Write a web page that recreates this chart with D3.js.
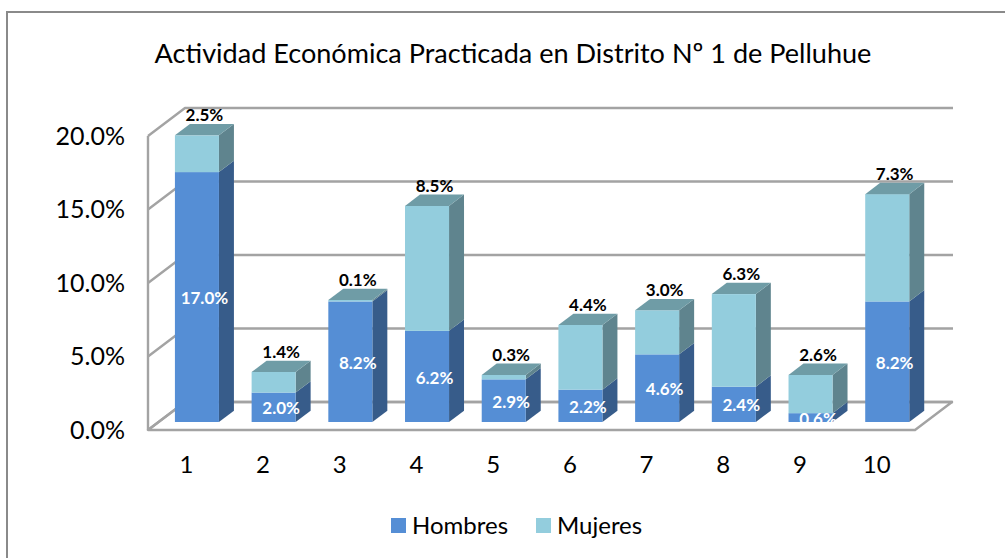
<!DOCTYPE html>
<html>
<head>
<meta charset="utf-8">
<script src="https://cdn.jsdelivr.net/npm/d3@7"></script>
<style>
  html, body { margin: 0; padding: 0; background: #ffffff; }
  svg { display: block; }
  text { font-family: Lato, "Open Sans", "Noto Sans", sans-serif; }
</style>
</head>
<body>
<svg id="chart" width="1005" height="558"></svg>
<script>
// ---- data ----
const title = "Actividad Económica Practicada en Distrito Nº 1 de Pelluhue";
const categories = ["1", "2", "3", "4", "5", "6", "7", "8", "9", "10"];
const seriesNames = ["Hombres", "Mujeres"];
const hombres = [17.0, 2.0, 8.2, 6.2, 2.9, 2.2, 4.6, 2.4, 0.6, 8.2];
const mujeres = [2.5, 1.4, 0.1, 8.5, 0.3, 4.4, 3.0, 6.3, 2.6, 7.3];
const yTicks = [0, 5, 10, 15, 20];

// ---- styles ----
const colors = {
  Hombres: { front: "#558ed5", side: "#375c8a", top: "#4a7cb8" },
  Mujeres: { front: "#93cddd", side: "#5f848e", top: "#6f9ca6" }
};
const gridColor = "#a3a3a3";

const svg = d3.select("#chart");

// ---- layout / 3D projection ----
const frontLeft = 148, frontRight = 915;
const depth = { dx: 37, dy: -28 };        // full floor depth
const barOffset = 0.286;                  // bar front plane, fraction of depth
const barDepth = 0.405;                   // bar depth, fraction of depth

const x = d3.scaleBand().domain(categories).range([frontLeft, frontRight])
  .paddingInner(0.426).paddingOuter(0.213);
const y = d3.scaleLinear().domain([0, 20]).range([430, 136]);

const ob = { dx: depth.dx * barOffset, dy: depth.dy * barOffset };
const bd = { dx: depth.dx * barDepth, dy: depth.dy * barDepth };

// chart border
svg.append("path")
  .attr("d", "M7,570 L7,12 L1010,12")
  .attr("fill", "none").attr("stroke", "#8a8a8a").attr("stroke-width", 2);

// title
const t = svg.append("text").text(title)
  .attr("x", 513).attr("y", 63).attr("text-anchor", "middle")
  .attr("font-size", 24).attr("fill", "#000");
const tw = t.node().getComputedTextLength();
t.attr("font-size", 24 * 717 / tw);

// ---- walls & floor ----
const walls = svg.append("g").attr("fill", "none").attr("stroke", gridColor)
  .attr("stroke-width", 2.4).attr("stroke-linejoin", "round");

const x0 = frontLeft, x1 = x.range()[1];
walls.append("path")
  .attr("d", `M${x0},${y(0)} L${x1},${y(0)} L${x1 + depth.dx},${y(0) + depth.dy} L${x0 + depth.dx},${y(0) + depth.dy} Z`)
  .attr("fill", "#ffffff");

yTicks.forEach(v => {
  walls.append("path")
    .attr("d", `M${x0},${y(v)} L${x0 + depth.dx},${y(v) + depth.dy} L${x1 + depth.dx + 1},${y(v) + depth.dy}`);
});
walls.append("line")
  .attr("x1", x0).attr("x2", x0).attr("y1", y(20)).attr("y2", y(0));

// ---- bars ----
const stacks = categories.map((c, i) => {
  const segs = [];
  let base = 0;
  [hombres[i], mujeres[i]].forEach((v, k) => {
    segs.push({ cat: c, series: seriesNames[k], y0: base, y1: base + v, value: v });
    base += v;
  });
  return { cat: c, segs, total: base };
});

const barsG = svg.append("g");
stacks.forEach(st => {
  const bx = x(st.cat) + ob.dx;
  const w = x.bandwidth();
  const g = barsG.append("g");
  st.segs.forEach((s, k) => {
    const yt = y(s.y1) + ob.dy, yb = y(s.y0) + ob.dy;
    const col = colors[s.series];
    g.append("path")
      .attr("d", `M${bx + w},${yb} L${bx + w + bd.dx},${yb + bd.dy} L${bx + w + bd.dx},${yt + bd.dy} L${bx + w},${yt} Z`)
      .attr("fill", col.side);
    g.append("rect")
      .attr("x", bx).attr("y", yt).attr("width", w).attr("height", Math.max(0, yb - yt))
      .attr("fill", col.front);
    if (k === st.segs.length - 1) {
      g.append("path")
        .attr("d", `M${bx},${yt} L${bx + w},${yt} L${bx + w + bd.dx},${yt + bd.dy} L${bx + bd.dx},${yt + bd.dy} Z`)
        .attr("fill", col.top);
    }
  });
});

// ---- data labels ----
const labelsG = svg.append("g").attr("font-weight", "bold").attr("font-size", 17)
  .attr("text-anchor", "middle");
stacks.forEach(st => {
  const cx = x(st.cat) + ob.dx + x.bandwidth() / 2 + bd.dx / 2;
  const h = st.segs[0];
  labelsG.append("text")
    .attr("x", cx).attr("y", (y(h.y0) + y(h.y1)) / 2 + ob.dy + 1)
    .attr("dy", "0.36em").attr("fill", "#ffffff")
    .text(h.value.toFixed(1) + "%");
  const m = st.segs[1];
  labelsG.append("text")
    .attr("x", cx).attr("y", y(m.y1) + ob.dy + bd.dy - 9)
    .attr("dy", "0.36em").attr("fill", "#000000")
    .text(m.value.toFixed(1) + "%");
});

// ---- axes ----
const yAxis = d3.axisLeft(y).tickValues(yTicks).tickSize(0).tickPadding(23)
  .tickFormat(d => d.toFixed(1) + "%");
const ya = svg.append("g").attr("transform", `translate(${frontLeft},0)`).call(yAxis);
ya.select(".domain").remove();
ya.selectAll("text").attr("font-size", 25).attr("fill", "#000")
  .style("font-family", "Lato, 'Open Sans', sans-serif");

const xAxis = d3.axisBottom(x).tickSize(0).tickPadding(26);
const xa = svg.append("g").attr("transform", `translate(0,${y(0)})`).call(xAxis);
xa.select(".domain").remove();
xa.selectAll("text").attr("font-size", 24).attr("fill", "#000")
  .style("font-family", "Lato, 'Open Sans', sans-serif");

// ---- legend ----
const legend = svg.append("g");
const legendX = [391, 536];
seriesNames.forEach((s, i) => {
  legend.append("rect").attr("x", legendX[i]).attr("y", 518).attr("width", 15).attr("height", 15)
    .attr("fill", colors[s].front);
  legend.append("text").attr("x", legendX[i] + 21).attr("y", 534)
    .attr("font-size", 24).attr("fill", "#000").text(s);
});
</script>
</body>
</html>
